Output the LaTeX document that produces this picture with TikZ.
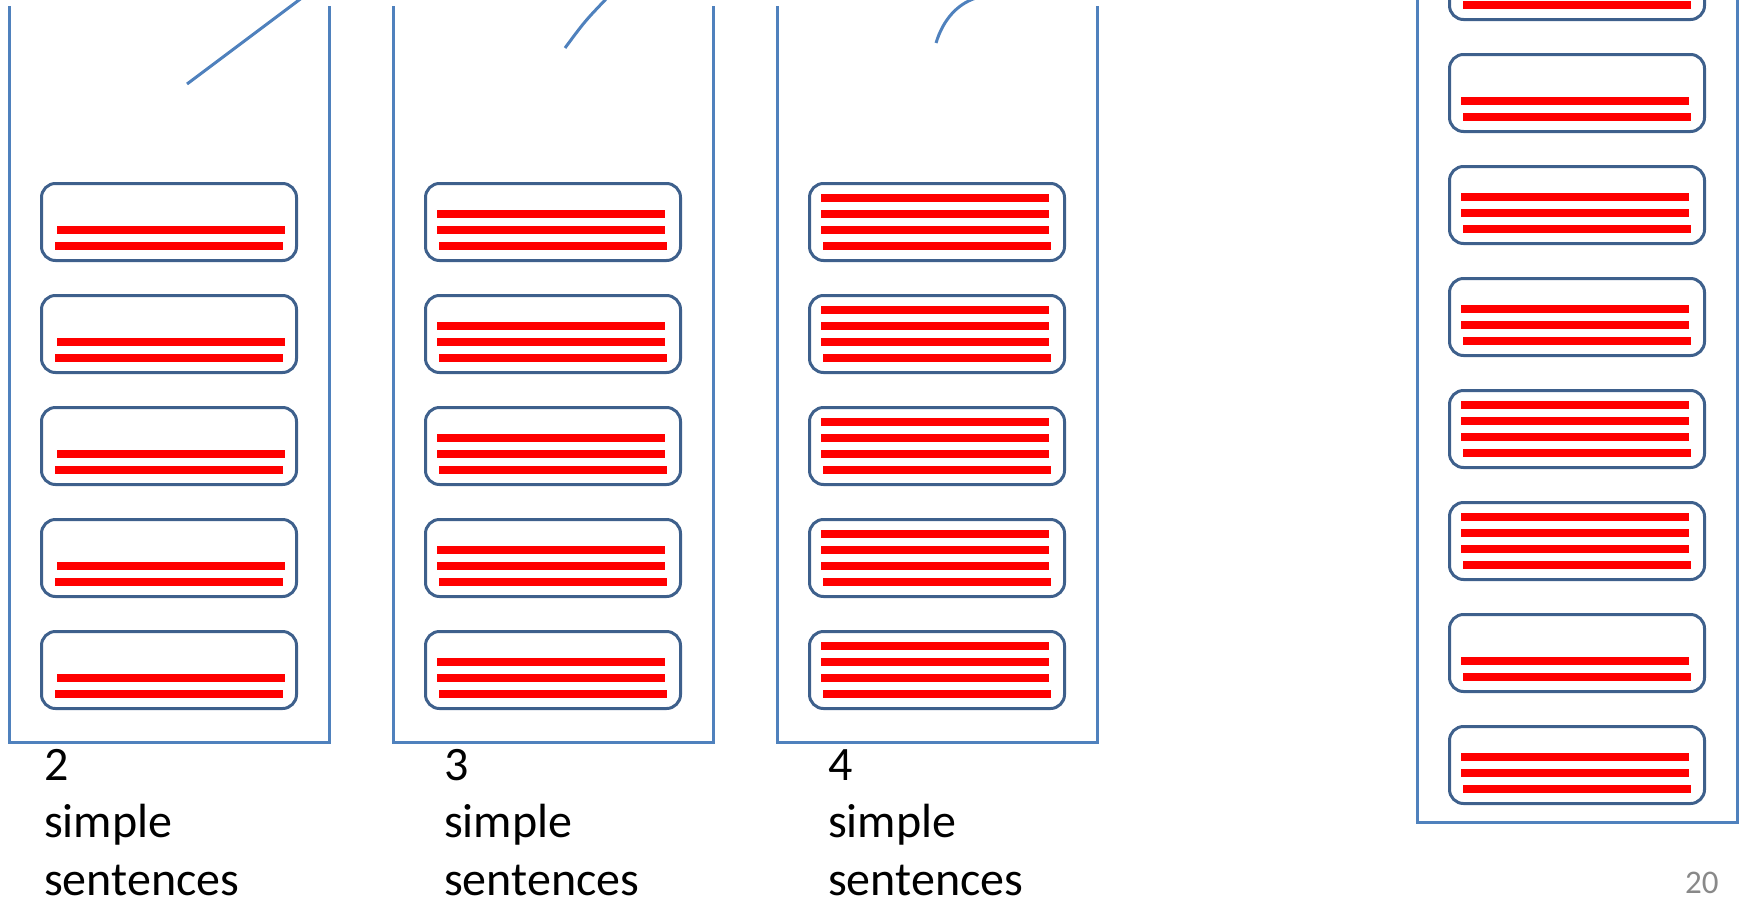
\documentclass[tikz,border=0pt]{standalone}
\usepackage{fontspec}
\setmainfont{Carlito}
\definecolor{frameblue}{RGB}{79,129,189}
\definecolor{boxblue}{RGB}{62,96,140}
\definecolor{textred}{RGB}{255,0,0}
\definecolor{pagegray}{RGB}{137,137,137}
\tikzset{
  column/.style={draw=frameblue, line width=3pt},
  pointer/.style={draw=frameblue, line width=3pt},
  sentbox/.style={draw=boxblue, line width=3pt, rounded corners=14pt,
    minimum width=255pt, minimum height=77pt, inner sep=0pt, outer sep=1.5pt,
    anchor=north west},
  textline/.style={draw=textred, line width=8pt},
  caption/.style={anchor=base west, inner sep=0pt, align=left,
    font=\fontsize{48}{57.5}\selectfont},
}
% one rounded box holding #4 red text lines, outer top-left corner at (#2,#3);
% #5 is the left indent of every line above the lowest one
\newcommand{\sentenceblock}[5]{%
  \node[sentbox] (#1) at (#2,#3) {};
  \draw[textline] ([xshift=15pt,yshift=16pt]#1.south west) -- ++(228pt,0);
  \foreach \k in {2,...,#4}{%
    \draw[textline] ([xshift=#5pt,yshift=16pt*\k]#1.south west) -- ++(228pt,0);
  }%
}
\begin{document}
\begin{tikzpicture}[x=1pt,y=-1pt]
\useasboundingbox (0,0) rectangle (1747,902);
\clip (0,0) rectangle (1747,902);

% three open-topped columns
\foreach \c/\L in {1/9,2/393,3/777}{
  \coordinate (c\c tl) at (\L,6);
  \coordinate (c\c tr) at (\L+320,6);
  \draw[column] (c\c tl) -- (\L,742) -- (\L+320,742) -- (c\c tr);
}
% tall column on the right
\coordinate (c4tl) at (1417,-2);
\coordinate (c4tr) at (1737,-2);
\draw[column] (c4tl) -- (1417,822) -- (1737,822) -- (c4tr);

% curved pointers entering the columns from above
\coordinate (p1a) at (187,84);  \coordinate (p1b) at (303,-3);
\coordinate (p2a) at (565,48);  \coordinate (p2b) at (608,-3);
\coordinate (p3a) at (936,43);  \coordinate (p3b) at (976,-2);
\draw[pointer] (p1a) -- (p1b);
\draw[pointer] (p2a) .. controls (585,21) .. (p2b);
\draw[pointer] (p3a) .. controls (943,20) and (957,4) .. (p3b);

% sentence boxes, columns one to three
\foreach \c/\L/\n/\ind in {1/40/2/17,2/424/3/13,3/808/4/13}{
  \foreach \r in {0,...,4}{
    \pgfmathsetmacro{\T}{182+112*\r}
    \sentenceblock{b\c-\r}{\L}{\T}{\n}{\ind}
  }
}
% sentence boxes, right column
\foreach \r/\n in {0/3,1/2,2/3,3/3,4/4,5/4,6/2,7/3}{
  \pgfmathsetmacro{\T}{-59+112*\r}
  \sentenceblock{b4-\r}{1448}{\T}{\n}{13}
}

% captions (anchored on the baseline of their last line)
\node[caption] (cap1) at (44,895) {2\\simple\\sentences};
\node[caption] (cap2) at (444,895) {3\\simple\\sentences};
\node[caption] (cap3) at (828,895) {4\\simple\\sentences};

% page number
\node[anchor=base west, inner sep=0pt, text=pagegray,
  font=\fontsize{33}{40}\selectfont] (pagenum) at (1685,893) {20};
\end{tikzpicture}
\end{document}
